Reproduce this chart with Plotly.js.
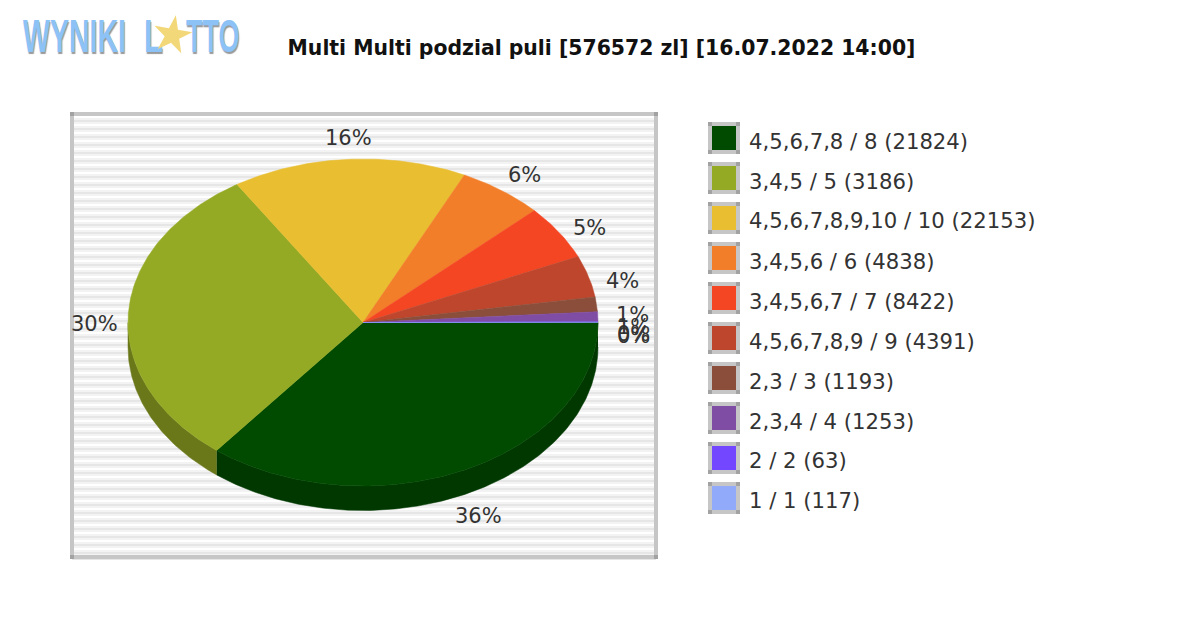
<!DOCTYPE html>
<html><head><meta charset="utf-8">
<script src="https://cdn.plot.ly/plotly-3.0.1.min.js"></script>
<style>html,body{margin:0;padding:0;background:#fff}#c{width:1200px;height:630px}</style></head>
<body><div id="c"></div>
<script>
const categories = ["4,5,6,7,8 / 8 (21824)","3,4,5 / 5 (3186)","4,5,6,7,8,9,10 / 10 (22153)","3,4,5,6 / 6 (4838)","3,4,5,6,7 / 7 (8422)","4,5,6,7,8,9 / 9 (4391)","2,3 / 3 (1193)","2,3,4 / 4 (1253)","2 / 2 (63)","1 / 1 (117)"];
const shares = [35.7,30.3,16.1,5.9,5.4,4.1,1.45,1.0,0.02,0.03];
const colors = ["#004b00","#95aa24","#e9be30","#f27e2a","#f54624","#be462d","#8a4e3a","#804da5","#7346ff","#91aafa"];
const wallColors = ["#003800","#6b781a","#a88a22","#ae5a1e","#b0321a","#883220","#633828","#5c3776","#5232b8","#687ab4"];
const titleText = "Multi Multi podzial puli [576572 zl] [16.07.2022 14:00]";
const labelDx = [0,0,2,4,4,3,4,4,4,4];
const labelDy = [26,11,2,3,8,11,13,11,12,14];

const W=1200,H=630;
const px=x=>x/W, py=y=>1-y/H;
const box={l:72,r:656,t:114,b:557};
const cx=363,cy=322.5,rx=235,ry=163.5,depth=24.5;
const FONT="'DejaVu Sans', sans-serif";
const total=shares.reduce((a,b)=>a+b,0);

const traces=[];
function arc(a0,a1){const n=Math.max(2,Math.ceil((a1-a0)/0.01));const o=[];for(let i=0;i<=n;i++){o.push(a0+(a1-a0)*i/n);}return o;}
const d=depth/ry;
let acc=0;const spans=shares.map(v=>{const s=[acc,acc+v/total*2*Math.PI];acc=s[1];return s;});
spans.forEach((s,i)=>{
  const a0=s[0],a1=Math.min(s[1],Math.PI);
  if(a1>a0){
    const t=arc(a0,a1);
    const xs=t.map(Math.cos),ys=t.map(a=>-Math.sin(a));
    traces.push({type:'scatter',mode:'lines',fill:'toself',fillcolor:wallColors[i],line:{width:0.5,color:wallColors[i]},
      x:xs.concat(xs.slice().reverse()),y:ys.concat(ys.slice().reverse().map(v=>v-d)),hoverinfo:'skip',showlegend:false});
  }
});
spans.forEach((s,i)=>{
  const t=arc(s[0],s[1]);
  traces.push({type:'scatter',mode:'lines',fill:'toself',fillcolor:colors[i],line:{width:0.5,color:colors[i]},
    x:[0].concat(t.map(Math.cos),[0]),y:[0].concat(t.map(a=>-Math.sin(a)),[0]),name:categories[i],
    text:categories[i],hoverinfo:'text',showlegend:false});
});

const shapes=[],annotations=[];
function rect(x0,y0,x1,y1,fill,layer){shapes.push({type:'rect',xref:'paper',yref:'paper',layer:layer||'above',x0:px(x0),x1:px(x1),y0:py(y1),y1:py(y0),fillcolor:fill,line:{width:0}});}
function frame(l,t,r,b,w){
  rect(l,t,r,t+w,'#c6c6c6');rect(l,b-w,r,b,'#c6c6c6');rect(l,t,l+w,b,'#c6c6c6');rect(r-w,t,r,b,'#c6c6c6');
  [[l,t],[r-w,t],[l,b-w],[r-w,b-w]].forEach(p=>rect(p[0],p[1],p[0]+w,p[1]+w,'#a2a2a2'));
}
rect(box.l,box.t,box.r,box.b,'#f3f3f3','below');
for(let y=box.t+2;y<box.b;y+=8){
  rect(box.l,y,box.r,Math.min(y+2,box.b),'#ffffff','below');
  rect(box.l,y+4,box.r,Math.min(y+6,box.b),'#e6e6e6','below');
}
frame(box.l-2,box.t-2,box.r+2,box.b+2,4);
spans.forEach((s,i)=>{
  const m=(s[0]+s[1])/2;
  annotations.push({xref:'x',yref:'y',x:Math.cos(m)*1.14,y:-Math.sin(m)*1.14,text:Math.round(shares[i]/total*100)+'%',showarrow:false,
    xshift:labelDx[i]-1,yshift:-labelDy[i],xanchor:'center',yanchor:'middle',font:{family:FONT,size:21,color:'#333'}});
});
categories.forEach((c,i)=>{
  const y=138+i*40;
  frame(708,y-16,740,y+16,4);
  rect(712,y-12,736,y+12,colors[i]);
  annotations.push({xref:'paper',yref:'paper',x:px(747),y:py(y+3),text:c,showarrow:false,xanchor:'left',yanchor:'middle',font:{family:FONT,size:21.2,color:'#333'}});
});
const logoFont={family:"'Liberation Sans',sans-serif",size:31,color:'#8cc2f6',weight:700,shadow:'1px 1px 1px #999'};
[['WYNIKI',21],['L',142],['TTO',184]].forEach(l=>annotations.push({xref:'paper',yref:'paper',x:px(l[1]),y:py(36),text:l[0],showarrow:false,xanchor:'left',yanchor:'middle',font:logoFont}));
annotations.push({xref:'paper',yref:'paper',x:px(172),y:py(34),text:'★',textangle:10,showarrow:false,xanchor:'center',yanchor:'middle',font:{family:FONT,size:50,color:'#f2d878'}});

const layout={
  width:W,height:H,margin:{l:0,r:0,t:0,b:0,pad:0},paper_bgcolor:'#fff',plot_bgcolor:'rgba(0,0,0,0)',showlegend:false,
  title:{text:titleText,x:px(601.5),xanchor:'center',y:py(48),yanchor:'middle',font:{family:FONT,size:20.4,color:'#111',weight:700}},
  xaxis:{domain:[px(box.l),px(box.r)],range:[(box.l-cx)/rx,(box.r-cx)/rx],visible:false,fixedrange:true},
  yaxis:{domain:[py(box.b),py(box.t)],range:[(cy-box.b)/ry,(cy-box.t)/ry],visible:false,fixedrange:true},
  shapes,annotations,hovermode:'closest'
};
Plotly.newPlot('c',traces,layout,{displayModeBar:false,responsive:false}).then(()=>{
  const stretch={WYNIKI:0.92,L:1,TTO:0.87};
  document.querySelectorAll('.annotation-text').forEach(t=>{
    const k=stretch[t.textContent];
    if(k){t.style.transformBox='fill-box';t.style.transformOrigin='left center';t.style.transform='scale('+k+',1.5)';}
  });
});
</script></body></html>
